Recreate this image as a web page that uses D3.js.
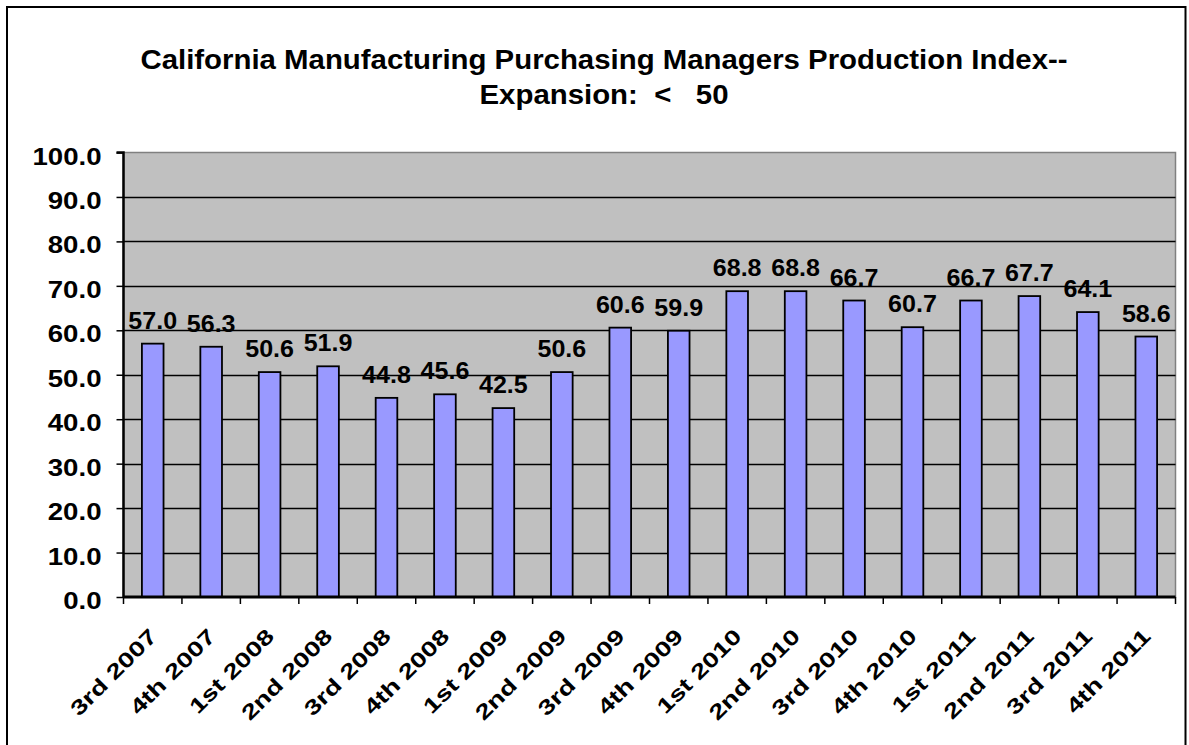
<!DOCTYPE html>
<html><head><meta charset="utf-8">
<script src="https://cdn.jsdelivr.net/npm/d3@7"></script>
<style>body{margin:0;background:#fff;} svg{display:block;} text{font-family:"Liberation Sans",Arial,sans-serif;font-weight:bold;fill:#000;}</style>
</head><body><svg id="c" width="1189" height="745"></svg>
<script>
const categories = ["3rd 2007","4th 2007","1st 2008","2nd 2008","3rd 2008","4th 2008","1st 2009","2nd 2009","3rd 2009","4th 2009","1st 2010","2nd 2010","3rd 2010","4th 2010","1st 2011","2nd 2011","3rd 2011","4th 2011"];
const values = [57.0,56.3,50.6,51.9,44.8,45.6,42.5,50.6,60.6,59.9,68.8,68.8,66.7,60.7,66.7,67.7,64.1,58.6];
const yTicks = [0,10,20,30,40,50,60,70,80,90,100];
const titleLines = ["California Manufacturing Purchasing Managers Production Index--","Expansion:  <   50"];

const svg = d3.select("#c");
const m = {left:123.5, right:1175.5, top:152.5, bottom:597};

// outer border
svg.append("rect").attr("x",7).attr("y",7).attr("width",1178.5).attr("height",760)
  .attr("fill","#fff").attr("stroke","#000").attr("stroke-width",2);

const x = d3.scaleBand().domain(categories).range([m.left, m.right]).paddingInner(0.63).paddingOuter(0.315);
const y = d3.scaleLinear().domain([0,100]).range([m.bottom, m.top]);

// plot area
svg.append("rect").attr("x",m.left).attr("y",m.top).attr("width",m.right-m.left).attr("height",m.bottom-m.top)
  .attr("fill","#c0c0c0").attr("stroke","#808080").attr("stroke-width",1.5);

// gridlines
svg.append("g").selectAll("line").data(yTicks.filter(d=>d>0 && d<100)).join("line")
  .attr("x1",m.left).attr("x2",m.right).attr("y1",d=>Math.round(y(d))+0.5).attr("y2",d=>Math.round(y(d))+0.5)
  .attr("stroke","#000").attr("stroke-width",1.5);

// bars
svg.append("g").selectAll("rect").data(values).join("rect")
  .attr("x",(d,i)=>x(categories[i])).attr("width",x.bandwidth())
  .attr("y",d=>y(d)).attr("height",d=>y(0)-y(d))
  .attr("fill","#9999ff").attr("stroke","#000").attr("stroke-width",1.8);

// bar labels (horizontally stretched like the reference)
svg.append("g").selectAll("g").data(values).join("g")
  .attr("transform",(d,i)=>`translate(${x(categories[i])+x.bandwidth()/2},${y(d)-15}) scale(1.09,1)`)
  .append("text").attr("text-anchor","middle").style("font-size","23px")
  .text(d=>d.toFixed(1));

// y axis
const yAxis = d3.axisLeft(y).tickValues(yTicks).tickFormat(d=>d.toFixed(1)).tickSize(7).tickPadding(0);
const gy = svg.append("g").attr("transform",`translate(${m.left},0)`).call(yAxis);
gy.select(".domain").attr("stroke","#000").attr("stroke-width",2.5).attr("d",`M-7,${m.top}H0V${m.bottom}`);
gy.selectAll(".tick line").attr("stroke","#000").attr("stroke-width",1.5);
gy.selectAll(".tick text").attr("x",null).attr("dy",null).attr("font-family",null).attr("font-size",null)
  .attr("transform","translate(-22,0) scale(1.15,1)").attr("dy","0.48em").style("font-size","24px");

// x axis
const bandBoundaries = categories.map(c=>x(c)-x.step()*x.paddingInner()/2).concat([m.right]);
const gx = svg.append("g");
gx.append("line").attr("x1",m.left).attr("x2",m.right).attr("y1",m.bottom).attr("y2",m.bottom).attr("stroke","#000").attr("stroke-width",3);
gx.selectAll("line.t").data(bandBoundaries).join("line").attr("class","t")
  .attr("x1",d=>d).attr("x2",d=>d).attr("y1",m.bottom).attr("y2",m.bottom+7).attr("stroke","#000").attr("stroke-width",1.5);
gx.selectAll("text").data(categories).join("text")
  .attr("transform",c=>`translate(${x(c)+x.bandwidth()/2-5},${m.bottom+30}) rotate(-45) scale(1.32,1)`)
  .attr("text-anchor","end").attr("dy","0.72em").style("font-size","21px").text(c=>c);

// title
svg.append("g").selectAll("text").data(titleLines).join("text")
  .attr("transform",(d,i)=>`translate(604,${69+i*35}) scale(1.05,1)`).attr("text-anchor","middle").style("font-size","28px")
  .attr("xml:space","preserve").style("white-space","pre").text(d=>d);
</script></body></html>
